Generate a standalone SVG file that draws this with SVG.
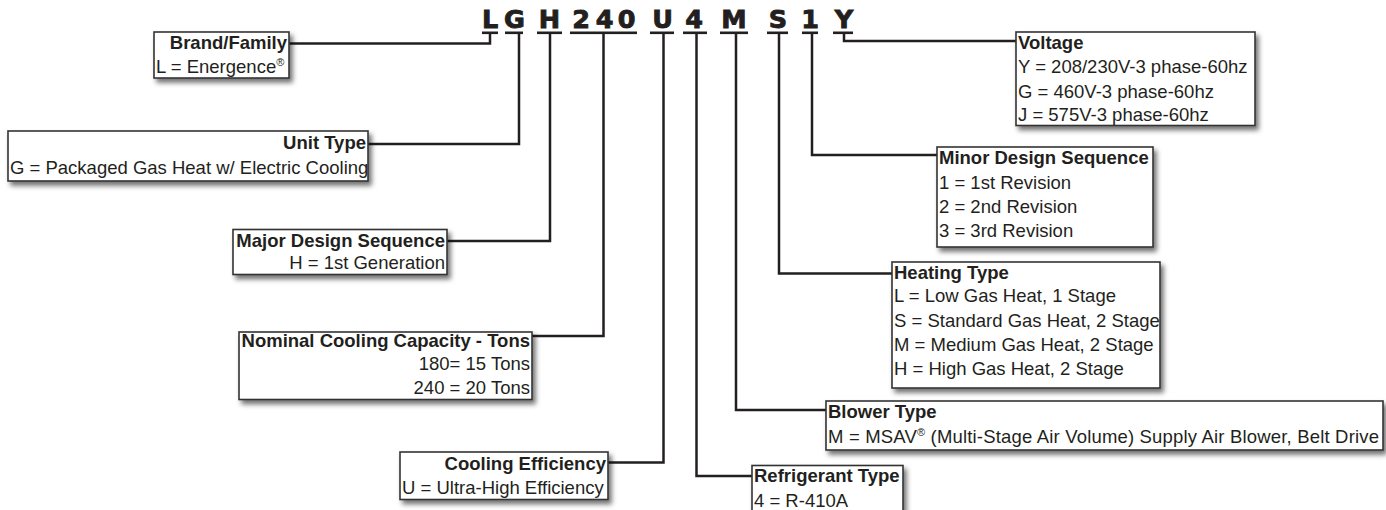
<svg xmlns="http://www.w3.org/2000/svg" width="1386" height="510" viewBox="0 0 1386 510">
<defs>
<filter id="sh" x="-10%" y="-20%" width="125%" height="160%">
<feDropShadow dx="3" dy="4" stdDeviation="2.4" flood-color="#000" flood-opacity="0.55"/>
</filter>
<style>
.box{fill:#fff;stroke:#333;stroke-width:1.6;filter:url(#sh)}
.t{font-family:"Liberation Sans",Arial,sans-serif;font-size:18.5px;fill:#231f20}
.b{font-weight:bold}
.r{text-anchor:end}
.sup{font-size:11px}
.code{font-family:"DejaVu Sans",sans-serif;font-weight:bold;font-size:25.5px;fill:#231f20;stroke:#231f20;stroke-width:0.9;text-anchor:middle}
.ul{fill:#231f20}
.c{fill:none;stroke:#231f20;stroke-width:2.5}
</style>
</defs>
<rect width="1386" height="510" fill="#fff"/>

<g id="code">
<text class="code" x="490 514.5 549.5 581 604.5 626.5 662.5 694 734 778 810 844" y="28">LGH240U4MS1Y</text>
<rect class="ul" x="482" y="31.5" width="16" height="2.6"/>
<rect class="ul" x="505" y="31.5" width="18" height="2.6"/>
<rect class="ul" x="537" y="31.5" width="25" height="2.6"/>
<rect class="ul" x="570" y="31.5" width="67" height="2.6"/>
<rect class="ul" x="650" y="31.5" width="24" height="2.6"/>
<rect class="ul" x="683" y="31.5" width="24" height="2.6"/>
<rect class="ul" x="720" y="31.5" width="28" height="2.6"/>
<rect class="ul" x="767" y="31.5" width="21" height="2.6"/>
<rect class="ul" x="802" y="31.5" width="16" height="2.6"/>
<rect class="ul" x="833" y="31.5" width="20" height="2.6"/>
</g>

<g id="connectors">
<path class="c" d="M490,34 V43.5 H289"/>
<path class="c" d="M519,34 V144 H368"/>
<path class="c" d="M550,34 V241 H447"/>
<path class="c" d="M603.5,34 V336 H532"/>
<path class="c" d="M663.5,34 V462.5 H608"/>
<path class="c" d="M696.5,34 V476 H752"/>
<path class="c" d="M736,34 V410 H826"/>
<path class="c" d="M779,34 V273.5 H892"/>
<path class="c" d="M812,34 V155 H937"/>
<path class="c" d="M844,34 V41 H1016"/>
</g>

<g id="brand">
<rect class="box" x="154" y="32" width="135" height="46"/>
<text class="t b r" x="287" y="49">Brand/Family</text>
<text class="t" x="156" y="73">L = Energence<tspan class="sup" dy="-7">®</tspan></text>
</g>

<g id="unit-type">
<rect class="box" x="8" y="131" width="360" height="50"/>
<text class="t b r" x="366" y="149">Unit Type</text>
<text class="t" x="10" y="174">G = Packaged Gas Heat w/ Electric Cooling</text>
</g>

<g id="major-design">
<rect class="box" x="233" y="229.5" width="214" height="45"/>
<text class="t b r" x="445" y="247">Major Design Sequence</text>
<text class="t r" x="445" y="268.5">H = 1st Generation</text>
</g>

<g id="nominal-capacity">
<rect class="box" x="239" y="332" width="293" height="67.5"/>
<text class="t b r" x="530" y="347">Nominal Cooling Capacity - Tons</text>
<text class="t r" x="530" y="370">180= 15 Tons</text>
<text class="t r" x="530" y="394">240 = 20 Tons</text>
</g>

<g id="cooling-efficiency">
<rect class="box" x="400" y="452" width="208" height="47.5"/>
<text class="t b r" x="606" y="469.5">Cooling Efficiency</text>
<text class="t" x="402" y="493.5">U = Ultra-High Efficiency</text>
</g>

<g id="refrigerant">
<rect class="box" x="752" y="465.5" width="151" height="60"/>
<text class="t b" x="754" y="482">Refrigerant Type</text>
<text class="t" x="754" y="507">4 = R-410A</text>
</g>

<g id="voltage">
<rect class="box" x="1016" y="32" width="239" height="93.5"/>
<text class="t b" x="1018" y="48.5">Voltage</text>
<text class="t" x="1018" y="73">Y = 208/230V-3 phase-60hz</text>
<text class="t" x="1018" y="97.5">G = 460V-3 phase-60hz</text>
<text class="t" x="1018" y="121">J = 575V-3 phase-60hz</text>
</g>

<g id="minor-design">
<rect class="box" x="937" y="147" width="216" height="100"/>
<text class="t b" x="939" y="164">Minor Design Sequence</text>
<text class="t" x="939" y="189">1 = 1st Revision</text>
<text class="t" x="939" y="213">2 = 2nd Revision</text>
<text class="t" x="939" y="237">3 = 3rd Revision</text>
</g>

<g id="heating-type">
<rect class="box" x="892" y="262" width="268" height="126"/>
<text class="t b" x="894" y="278.5">Heating Type</text>
<text class="t" x="894" y="302">L = Low Gas Heat, 1 Stage</text>
<text class="t" x="894" y="326.5">S = Standard Gas Heat, 2 Stage</text>
<text class="t" x="894" y="350.5">M = Medium Gas Heat, 2 Stage</text>
<text class="t" x="894" y="375">H = High Gas Heat, 2 Stage</text>
</g>

<g id="blower-type">
<rect class="box" x="826" y="401" width="557" height="49"/>
<text class="t b" x="828" y="418">Blower Type</text>
<text class="t" x="828" y="443" textLength="551" lengthAdjust="spacing">M = MSAV<tspan class="sup" dy="-7">®</tspan><tspan dy="7"> (Multi-Stage Air Volume) Supply Air Blower, Belt Drive</tspan></text>
</g>
</svg>
